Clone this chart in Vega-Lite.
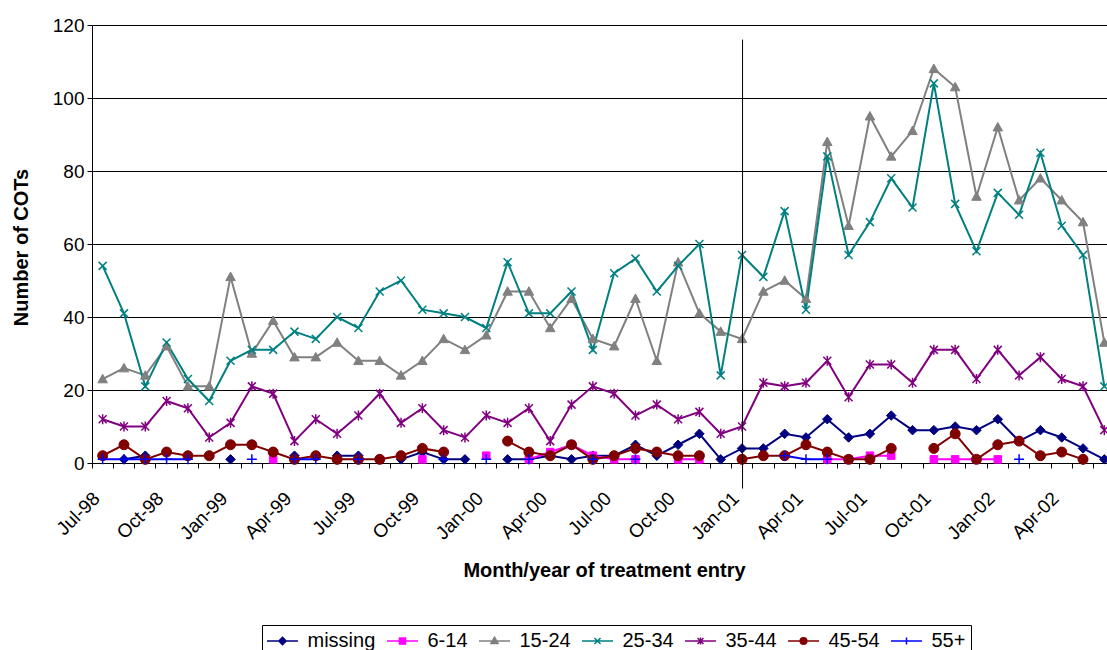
{
  "$schema": "https://vega.github.io/schema/vega-lite/v6.json",
  "width": 1015,
  "height": 438,
  "autosize": {"type": "none"},
  "padding": {"left": 92, "top": 25, "right": 0, "bottom": 187},
  "background": "white",
  "config": {
    "font": "Liberation Sans",
    "view": {"stroke": null},
    "axis": {"labelColor": "black", "titleColor": "black", "domainColor": "black", "tickColor": "black", "gridColor": "black", "labelFont": "Liberation Sans", "titleFont": "Liberation Sans"},
    "legend": {
      "orient": "none", "legendX": 170, "legendY": 600, "direction": "horizontal",
      "strokeColor": "black", "padding": 5, "fillColor": "white",
      "labelFontSize": 20, "labelColor": "black", "labelFont": "Liberation Sans",
      "symbolSize": 400, "symbolStrokeWidth": 1.5, "symbolOpacity": 1, "symbolOffset": 4.5, "labelOffset": 14, "columnPadding": 8
    }
  },
  "datasets": {
    "cots": [
      {"month": "Jul-98", "missing": null, "6-14": null, "15-24": 23, "25-34": 54, "35-44": 12, "45-54": 2, "55+": 1},
      {"month": "Aug-98", "missing": 1, "6-14": null, "15-24": 26, "25-34": 41, "35-44": 10, "45-54": 5, "55+": 1},
      {"month": "Sep-98", "missing": 2, "6-14": null, "15-24": 24, "25-34": 21, "35-44": 10, "45-54": 1, "55+": 1},
      {"month": "Oct-98", "missing": null, "6-14": null, "15-24": 32, "25-34": 33, "35-44": 17, "45-54": 3, "55+": 1},
      {"month": "Nov-98", "missing": null, "6-14": null, "15-24": 21, "25-34": 23, "35-44": 15, "45-54": 2, "55+": 1},
      {"month": "Dec-98", "missing": null, "6-14": null, "15-24": 21, "25-34": 17, "35-44": 7, "45-54": 2, "55+": null},
      {"month": "Jan-99", "missing": 1, "6-14": null, "15-24": 51, "25-34": 28, "35-44": 11, "45-54": 5, "55+": null},
      {"month": "Feb-99", "missing": null, "6-14": null, "15-24": 30, "25-34": 31, "35-44": 21, "45-54": 5, "55+": 1},
      {"month": "Mar-99", "missing": null, "6-14": 1, "15-24": 39, "25-34": 31, "35-44": 19, "45-54": 3, "55+": null},
      {"month": "Apr-99", "missing": 2, "6-14": null, "15-24": 29, "25-34": 36, "35-44": 6, "45-54": 1, "55+": 1},
      {"month": "May-99", "missing": null, "6-14": null, "15-24": 29, "25-34": 34, "35-44": 12, "45-54": 2, "55+": 1},
      {"month": "Jun-99", "missing": 2, "6-14": null, "15-24": 33, "25-34": 40, "35-44": 8, "45-54": 1, "55+": null},
      {"month": "Jul-99", "missing": 2, "6-14": null, "15-24": 28, "25-34": 37, "35-44": 13, "45-54": 1, "55+": 1},
      {"month": "Aug-99", "missing": null, "6-14": null, "15-24": 28, "25-34": 47, "35-44": 19, "45-54": 1, "55+": null},
      {"month": "Sep-99", "missing": 1, "6-14": null, "15-24": 24, "25-34": 50, "35-44": 11, "45-54": 2, "55+": null},
      {"month": "Oct-99", "missing": 3, "6-14": 1, "15-24": 28, "25-34": 42, "35-44": 15, "45-54": 4, "55+": null},
      {"month": "Nov-99", "missing": 1, "6-14": null, "15-24": 34, "25-34": 41, "35-44": 9, "45-54": 3, "55+": 1},
      {"month": "Dec-99", "missing": 1, "6-14": null, "15-24": 31, "25-34": 40, "35-44": 7, "45-54": null, "55+": null},
      {"month": "Jan-00", "missing": null, "6-14": 2, "15-24": 35, "25-34": 37, "35-44": 13, "45-54": null, "55+": 1},
      {"month": "Feb-00", "missing": 1, "6-14": null, "15-24": 47, "25-34": 55, "35-44": 11, "45-54": 6, "55+": null},
      {"month": "Mar-00", "missing": 1, "6-14": 1, "15-24": 47, "25-34": 41, "35-44": 15, "45-54": 3, "55+": 1},
      {"month": "Apr-00", "missing": 2, "6-14": 3, "15-24": 37, "25-34": 41, "35-44": 6, "45-54": 2, "55+": null},
      {"month": "May-00", "missing": 1, "6-14": 5, "15-24": 45, "25-34": 47, "35-44": 16, "45-54": 5, "55+": null},
      {"month": "Jun-00", "missing": 2, "6-14": 2, "15-24": 34, "25-34": 31, "35-44": 21, "45-54": 1, "55+": 1},
      {"month": "Jul-00", "missing": 2, "6-14": 1, "15-24": 32, "25-34": 52, "35-44": 19, "45-54": 2, "55+": null},
      {"month": "Aug-00", "missing": 5, "6-14": 1, "15-24": 45, "25-34": 56, "35-44": 13, "45-54": 4, "55+": 1},
      {"month": "Sep-00", "missing": 2, "6-14": null, "15-24": 28, "25-34": 47, "35-44": 16, "45-54": 3, "55+": null},
      {"month": "Oct-00", "missing": 5, "6-14": 1, "15-24": 55, "25-34": 54, "35-44": 12, "45-54": 2, "55+": null},
      {"month": "Nov-00", "missing": 8, "6-14": 1, "15-24": 41, "25-34": 60, "35-44": 14, "45-54": 2, "55+": null},
      {"month": "Dec-00", "missing": 1, "6-14": null, "15-24": 36, "25-34": 24, "35-44": 8, "45-54": null, "55+": null},
      {"month": "Jan-01", "missing": 4, "6-14": null, "15-24": 34, "25-34": 57, "35-44": 10, "45-54": 1, "55+": null},
      {"month": "Feb-01", "missing": 4, "6-14": null, "15-24": 47, "25-34": 51, "35-44": 22, "45-54": 2, "55+": null},
      {"month": "Mar-01", "missing": 8, "6-14": null, "15-24": 50, "25-34": 69, "35-44": 21, "45-54": 2, "55+": 2},
      {"month": "Apr-01", "missing": 7, "6-14": null, "15-24": 45, "25-34": 42, "35-44": 22, "45-54": 5, "55+": 1},
      {"month": "May-01", "missing": 12, "6-14": 1, "15-24": 88, "25-34": 84, "35-44": 28, "45-54": 3, "55+": 1},
      {"month": "Jun-01", "missing": 7, "6-14": 1, "15-24": 65, "25-34": 57, "35-44": 18, "45-54": 1, "55+": null},
      {"month": "Jul-01", "missing": 8, "6-14": 2, "15-24": 95, "25-34": 66, "35-44": 27, "45-54": 1, "55+": null},
      {"month": "Aug-01", "missing": 13, "6-14": 2, "15-24": 84, "25-34": 78, "35-44": 27, "45-54": 4, "55+": null},
      {"month": "Sep-01", "missing": 9, "6-14": null, "15-24": 91, "25-34": 70, "35-44": 22, "45-54": null, "55+": null},
      {"month": "Oct-01", "missing": 9, "6-14": 1, "15-24": 108, "25-34": 104, "35-44": 31, "45-54": 4, "55+": null},
      {"month": "Nov-01", "missing": 10, "6-14": 1, "15-24": 103, "25-34": 71, "35-44": 31, "45-54": 8, "55+": null},
      {"month": "Dec-01", "missing": 9, "6-14": 1, "15-24": 73, "25-34": 58, "35-44": 23, "45-54": 1, "55+": null},
      {"month": "Jan-02", "missing": 12, "6-14": 1, "15-24": 92, "25-34": 74, "35-44": 31, "45-54": 5, "55+": null},
      {"month": "Feb-02", "missing": 6, "6-14": null, "15-24": 72, "25-34": 68, "35-44": 24, "45-54": 6, "55+": 1},
      {"month": "Mar-02", "missing": 9, "6-14": null, "15-24": 78, "25-34": 85, "35-44": 29, "45-54": 2, "55+": null},
      {"month": "Apr-02", "missing": 7, "6-14": null, "15-24": 72, "25-34": 65, "35-44": 23, "45-54": 3, "55+": null},
      {"month": "May-02", "missing": 4, "6-14": null, "15-24": 66, "25-34": 57, "35-44": 21, "45-54": 1, "55+": null},
      {"month": "Jun-02", "missing": 1, "6-14": null, "15-24": 33, "25-34": 21, "35-44": 9, "45-54": null, "55+": null}
    ],
    "marker": [{"month": "Jan-01", "top": 116, "bottom": -7}]
  },
  "encoding": {
    "x": {
      "field": "month", "type": "ordinal", "sort": null,
      "scale": {"type": "band", "paddingInner": 0, "paddingOuter": 0, "range": [0, 1023],
        "domain": ["Jul-98","Aug-98","Sep-98","Oct-98","Nov-98","Dec-98","Jan-99","Feb-99","Mar-99","Apr-99","May-99","Jun-99","Jul-99","Aug-99","Sep-99","Oct-99","Nov-99","Dec-99","Jan-00","Feb-00","Mar-00","Apr-00","May-00","Jun-00","Jul-00","Aug-00","Sep-00","Oct-00","Nov-00","Dec-00","Jan-01","Feb-01","Mar-01","Apr-01","May-01","Jun-01","Jul-01","Aug-01","Sep-01","Oct-01","Nov-01","Dec-01","Jan-02","Feb-02","Mar-02","Apr-02","May-02","Jun-02"]},
      "axis": {
        "title": "Month/year of treatment entry",
        "titleFontSize": 20, "titleFontWeight": "bold",
        "titleX": 512, "titleY": 113, "titleBaseline": "alphabetic", "titleAlign": "center",
        "bandPosition": 0, "tickSize": 5, "tickWidth": 1, "domainWidth": 1,
        "labelAngle": -45, "labelAlign": "right", "labelBaseline": "middle",
        "labelFontSize": 19, "labelPadding": 27, "labelOffset": -6,
        "labelOverlap": false, "labelBound": false, "labelFlush": false,
        "labelExpr": "indexof(['Jul','Oct','Jan','Apr'], substring(datum.value, 0, 3)) >= 0 ? datum.value : ''",
        "grid": false
      }
    }
  },
  "layer": [
    {
      "data": {"name": "cots"},
      "transform": [{"fold": ["missing", "6-14", "15-24", "25-34", "35-44", "45-54", "55+"], "as": ["series", "value"]}, {"filter": "isValid(datum.value)"}],
      "mark": {"type": "point", "filled": true, "size": 100, "strokeWidth": 1.5, "opacity": 0},
      "encoding": {
        "y": {
          "field": "value", "type": "quantitative",
          "scale": {"domain": [0, 120], "nice": false},
          "axis": {
            "title": "Number of COTs",
            "titleFontSize": 20, "titleFontWeight": "bold",
            "titleX": -65, "titleY": 222, "titleBaseline": "alphabetic", "titleAlign": "center", "titleAngle": -90,
            "values": [0, 20, 40, 60, 80, 100, 120],
            "tickSize": 5, "labelFontSize": 19, "labelPadding": 3,
            "grid": true, "gridColor": "black", "gridWidth": 1
          }
        },
        "color": {
          "field": "series", "type": "nominal", "sort": null,
          "scale": {"domain": ["missing", "6-14", "15-24", "25-34", "35-44", "45-54", "55+"], "range": ["#000080", "#FF00FF", "#808080", "#008080", "#800080", "#800000", "#0000FF"]},
          "legend": {"title": null}
        },
        "stroke": {"field": "series", "type": "nominal", "sort": null,
          "scale": {"domain": ["missing", "6-14", "15-24", "25-34", "35-44", "45-54", "55+"], "range": ["#000080", "#FF00FF", "#808080", "#008080", "#800080", "#800000", "#0000FF"]},
          "legend": {"title": null}},
        "shape": {"field": "series", "type": "nominal", "sort": null,
          "legend": {"title": null},
          "scale": {"domain": ["missing", "6-14", "15-24", "25-34", "35-44", "45-54", "55+"],
            "range": [
              "M-1.55,0L1.55,0M0,-0.36L0.36,0L0,0.36L-0.36,0Z",
              "M-1.55,0L1.55,0M-0.3,-0.3L0.3,-0.3L0.3,0.3L-0.3,0.3Z",
              "M-1.55,0L1.55,0M0,-0.38L0.36,0.26L-0.36,0.26Z",
              "M-1.55,0L1.55,0M-0.3,-0.3L0.3,0.3M-0.3,0.3L0.3,-0.3",
              "M-1.55,0L1.55,0M-0.3,-0.3L0.3,0.3M-0.3,0.3L0.3,-0.3M0,-0.36L0,0.36",
              "M-1.55,0L1.55,0M-0.33,0A0.33,0.33,0,1,1,0.33,0A0.33,0.33,0,1,1,-0.33,0Z",
              "M-1.55,0L1.55,0M0,-0.36L0,0.36"
            ]}}
      }
    },
    {
      "data": {"name": "cots"},
      "transform": [{"fold": ["missing", "6-14", "15-24", "25-34", "35-44", "45-54", "55+"], "as": ["series", "value"]}],
      "mark": {"type": "line", "strokeWidth": 2, "invalid": "break-paths-show-domains"},
      "encoding": {
        "y": {"field": "value", "type": "quantitative", "title": "Number of COTs"},
        "color": {"field": "series", "type": "nominal", "sort": null, "legend": {"title": null}}
      }
    },
    {
      "data": {"name": "cots"},
      "mark": {"type": "point", "filled": true, "size": 100, "opacity": 1, "fill": "#000080", "stroke": "#000080", "strokeWidth": 1, "shape": "M0,-0.95L0.95,0L0,0.95L-0.95,0Z"},
      "encoding": {"y": {"field": "missing", "type": "quantitative", "title": "Number of COTs"}}
    },
    {
      "data": {"name": "cots"},
      "mark": {"type": "point", "filled": true, "size": 100, "opacity": 1, "fill": "#FF00FF", "stroke": "#FF00FF", "strokeWidth": 1, "shape": "M-0.75,-0.75L0.75,-0.75L0.75,0.75L-0.75,0.75Z"},
      "encoding": {"y": {"field": "6-14", "type": "quantitative", "title": "Number of COTs"}}
    },
    {
      "data": {"name": "cots"},
      "mark": {"type": "point", "filled": true, "size": 100, "opacity": 1, "fill": "#808080", "stroke": "#808080", "strokeWidth": 1, "shape": "M0,-0.95L0.95,0.75L-0.95,0.75Z"},
      "encoding": {"y": {"field": "15-24", "type": "quantitative", "title": "Number of COTs"}}
    },
    {
      "data": {"name": "cots"},
      "mark": {"type": "point", "filled": true, "size": 100, "opacity": 1, "fill": "#008080", "stroke": "#008080", "strokeWidth": 1.5, "shape": "M-0.8,-0.8L0.8,0.8M-0.8,0.8L0.8,-0.8"},
      "encoding": {"y": {"field": "25-34", "type": "quantitative", "title": "Number of COTs"}}
    },
    {
      "data": {"name": "cots"},
      "mark": {"type": "point", "filled": true, "size": 100, "opacity": 1, "fill": "#800080", "stroke": "#800080", "strokeWidth": 1.5, "shape": "M-0.8,-0.8L0.8,0.8M-0.8,0.8L0.8,-0.8M0,-1L0,1"},
      "encoding": {"y": {"field": "35-44", "type": "quantitative", "title": "Number of COTs"}}
    },
    {
      "data": {"name": "cots"},
      "mark": {"type": "point", "filled": true, "size": 100, "opacity": 1, "fill": "#800000", "stroke": "#800000", "strokeWidth": 1, "shape": "M-1,0A1,1,0,1,1,1,0A1,1,0,1,1,-1,0Z"},
      "encoding": {"y": {"field": "45-54", "type": "quantitative", "title": "Number of COTs"}}
    },
    {
      "data": {"name": "cots"},
      "mark": {"type": "point", "filled": true, "size": 100, "opacity": 1, "fill": "#0000FF", "stroke": "#0000FF", "strokeWidth": 1.5, "shape": "M-1,0L1,0M0,-1L0,1"},
      "encoding": {"y": {"field": "55+", "type": "quantitative", "title": "Number of COTs"}}
    },
    {
      "data": {"name": "marker"},
      "mark": {"type": "rule", "color": "black", "strokeWidth": 1, "clip": false, "xOffset": 0.53},
      "encoding": {
        "y": {"field": "top", "type": "quantitative", "title": "Number of COTs"},
        "y2": {"field": "bottom"}
      }
    }
  ]
}
